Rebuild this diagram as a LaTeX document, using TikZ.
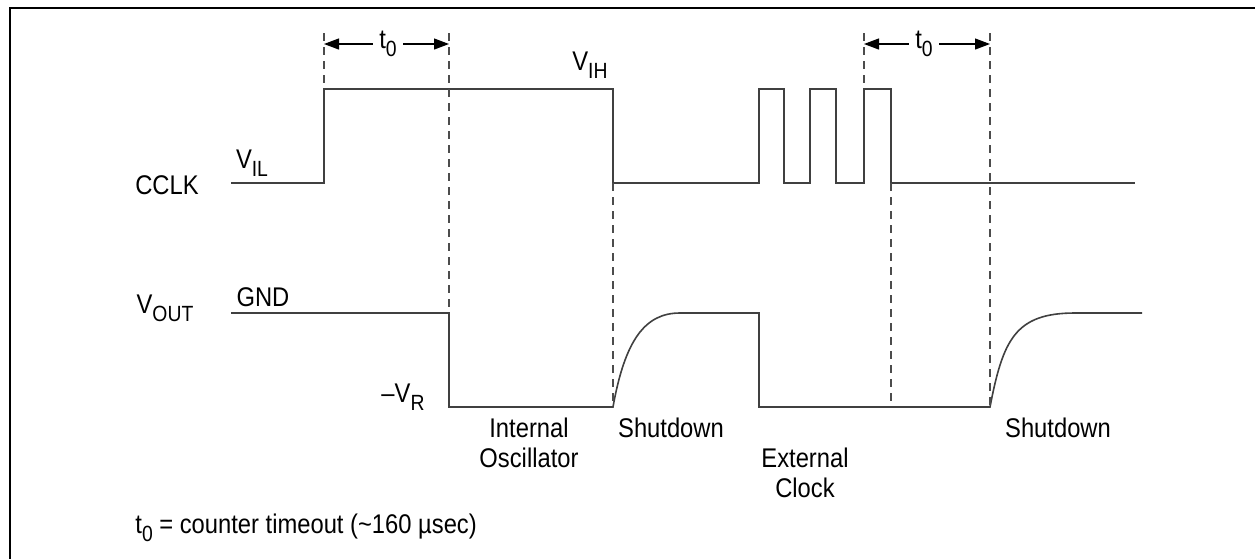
\documentclass[tikz,border=0pt]{standalone}
\usepackage{fontspec}
\setmainfont{Liberation Sans}[FakeStretch=0.88]
\usetikzlibrary{arrows.meta,positioning}
\newcommand\subtx[1]{\raisebox{-0.55ex}{\fontsize{11}{11}\selectfont #1}}
\tikzset{
  sig/.style={line width=0.8pt,draw=black!75},
  guide/.style={draw=black!70,line width=0.6pt,dash pattern=on 4pt off 3pt},
  dim/.style={-{Triangle[length=7.5pt,width=5.5pt]},line width=0.6pt},
  lbl/.style={font=\fontsize{13.5}{15}\selectfont,inner sep=0pt,align=center},
  tlbl/.style={lbl,inner sep=3pt}
}
\begin{document}
\begin{tikzpicture}[x=0.5pt,y=-0.5pt]
    \useasboundingbox (0,0) rectangle (1255,559);
    \draw[line width=1.4pt] (1255,8) -- (10,8) -- (10,559);

    \path
    (167,185) node[lbl] (cclk) {CCLK}
    (252,163) node[lbl] (vil) {V\subtx{IL}}
    (590,65) node[lbl] (vih) {V\subtx{IH}}
    (165,308) node[lbl] (vout) {V\subtx{OUT}}
    (263,297) node[lbl] (gnd) {GND}
    (403,397) node[lbl] (vr) {–V\subtx{R}}
    ;

    \path
    (529,443) node[lbl] (intosc) {Internal\\Oscillator}
    (671,428) node[lbl] (shdnA) {Shutdown}
    (805,473) node[lbl] (extclk) {External\\Clock}
    (1058,428) node[lbl] (shdnB) {Shutdown}
    (135,528) node[lbl,anchor=west] (note) {t\subtx{0} = counter timeout (\textasciitilde160 µsec)}
    ;

    % CCLK
    \draw[sig] (231,183) -- (324,183) -- (324,89) -- (613,89) -- (613,183)
      -- (759,183) -- (759,89) -- (784,89) -- (784,183)
      -- (810,183) -- (810,89) -- (836,89) -- (836,183)
      -- (864,183) -- (864,89) -- (891,89) -- (891,183) -- (1135,183);

    % VOUT
    \draw[sig] (231,313) -- (449,313) -- (449,407) -- (613,407)
      .. controls (625,340) and (645,313) .. (680,313) -- (759,313)
      -- (759,407) -- (990,407)
      .. controls (1003,340) and (1015,313) .. (1075,313) -- (1142,313);

    \draw[guide] (324,33) -- (324,89);
    \draw[guide] (449,33) -- (449,313);
    \draw[guide] (613,183) -- (613,407);
    \draw[guide] (864,33) -- (864,89);
    \draw[guide] (891,183) -- (891,407);
    \draw[guide] (990,33) -- (990,407);

    \path
    (388,44) node[tlbl] (tA) {t\subtx{0}}
    (924,44) node[tlbl] (tB) {t\subtx{0}}
    ;
    \coordinate (tAl) at (324,44);
    \coordinate (tAr) at (449,44);
    \coordinate (tBl) at (864,44);
    \coordinate (tBr) at (990,44);
    \draw[dim] (tA) -- (tAl);
    \draw[dim] (tA) -- (tAr);
    \draw[dim] (tB) -- (tBl);
    \draw[dim] (tB) -- (tBr);
\end{tikzpicture}
\end{document}
